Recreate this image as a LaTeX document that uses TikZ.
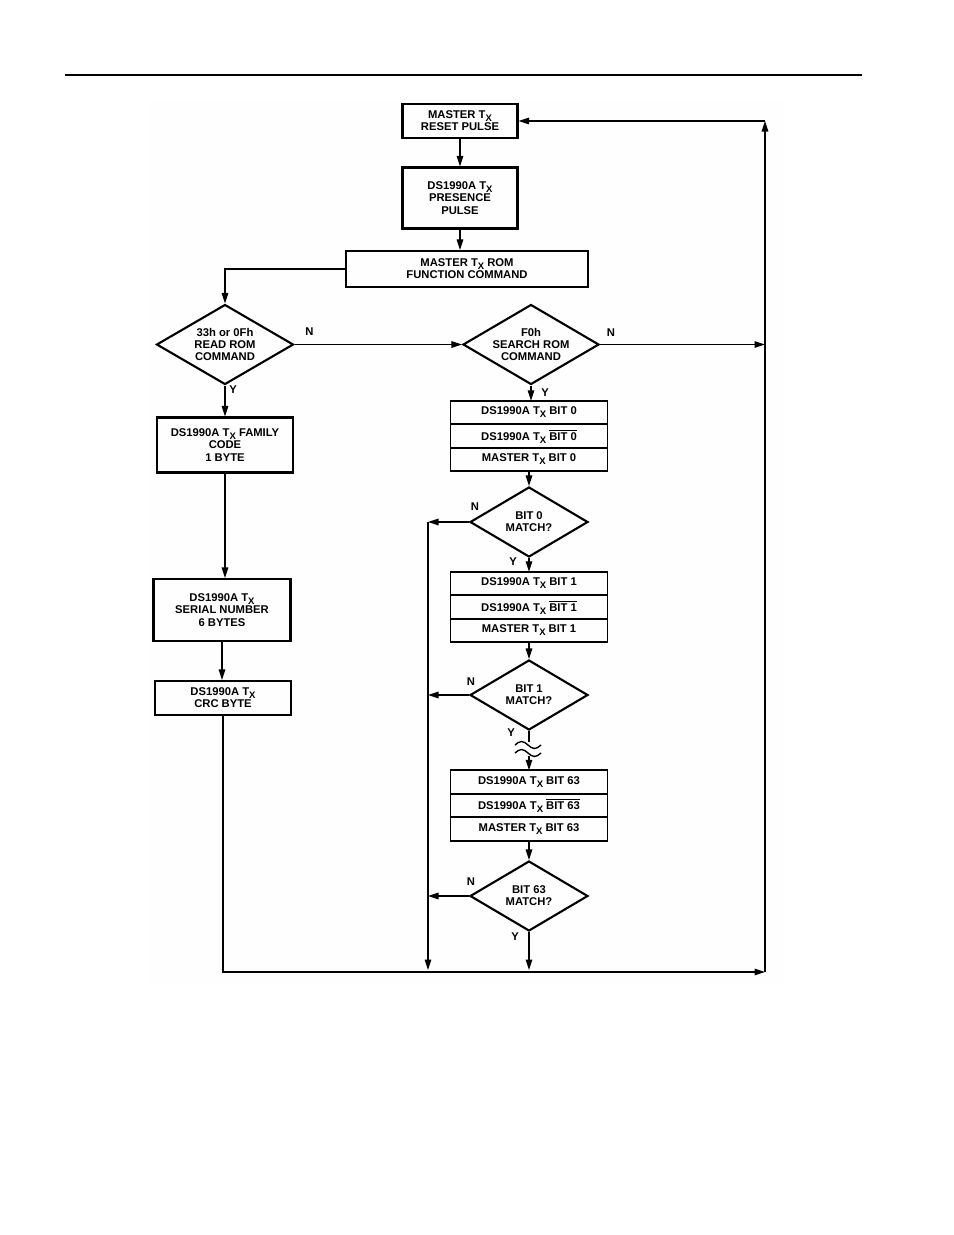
\documentclass[tikz,border=0pt]{standalone}
\usepackage{fontspec}
\setmainfont{Liberation Sans}
\usepackage{tikz}
\usetikzlibrary{positioning,arrows.meta,shapes.geometric,calc}
\newcommand{\flowfont}{\fontsize{6.4}{6.9}\selectfont\bfseries}
\newcommand{\Tx}{T\raisebox{-0.5ex}{\fontsize{5.4}{5.4}\selectfont X}}
\newcommand{\nbit}[1]{$\overline{\mbox{BIT #1}}$}
\tikzset{
  flowbox/.style={
    draw,
    line width=1.2pt,
    align=center,
    inner sep=1pt,
    font=\flowfont
  },
  bitrow/.style={
    draw,
    line width=1.1pt,
    minimum width=3.14cm,
    minimum height=0.47cm,
    inner sep=0pt,
    outer sep=0pt,
    font=\flowfont
  },
  decision/.style={
    diamond,
    draw,
    line width=1.2pt,
    inner sep=0pt,
    minimum width=2.36cm,
    minimum height=1.4cm
  },
  dtext/.style={align=center, inner sep=0pt, font=\flowfont},
  yn/.style={inner sep=0pt, font=\flowfont},
  wire/.style={line width=0.8pt},
  arrow/.style={
    wire,
    -{Triangle[length=2.1mm,width=1.3mm]}
  }
}

\begin{document}
\begin{tikzpicture}[x=0.02cm, y=-0.02cm]
  \useasboundingbox (0,0) rectangle (954,1235);
  \fill[black!0.3] (147,102) rectangle (785,985);
  \draw[line width=1.1pt] (65,75) -- (862,75);

  % reset and ROM command
  \node[flowbox, minimum width=2.3cm, minimum height=0.68cm] (reset) at (460,121) {MASTER \Tx\\RESET PULSE};
  \node[flowbox, minimum width=2.3cm, minimum height=1.22cm] (pres) at (460,198) {DS1990A \Tx\\PRESENCE\\PULSE};
  \node[flowbox, minimum width=4.84cm, minimum height=0.72cm] (rom) at (467,269) {MASTER \Tx{} ROM\\FUNCTION COMMAND};

  % read ROM branch
  \node[decision, minimum width=2.74cm, minimum height=1.6cm] (d1) at (225,344.5) {};
  \node[dtext] (d1t) at (d1) {33h or 0Fh\\READ ROM\\COMMAND};
  \node[flowbox, minimum width=2.72cm, minimum height=1.1cm] (fam) at (225,445) {DS1990A \Tx{} FAMILY\\CODE\\1 BYTE};
  \node[flowbox, minimum width=2.74cm, minimum height=1.24cm] (ser) at (222,610) {DS1990A \Tx\\SERIAL NUMBER\\6 BYTES};
  \node[flowbox, minimum width=2.72cm, minimum height=0.68cm] (crc) at (223,698) {DS1990A \Tx\\CRC BYTE};

  % search ROM branch
  \node[decision, minimum width=2.72cm, minimum height=1.6cm] (d2) at (531,344.5) {};
  \node[dtext] (d2t) at (d2) {F0h\\SEARCH ROM\\COMMAND};

  \node[bitrow] (b0a) at (529,412.5) {DS1990A \Tx{} BIT 0};
  \node[bitrow, below=0pt of b0a] (b0b) {DS1990A \Tx{} \nbit{0}};
  \node[bitrow, below=0pt of b0b] (b0c) {MASTER \Tx{} BIT 0};
  \node[decision] (m0) at (529,522) {};
  \node[dtext] (m0t) at (m0) {BIT 0\\MATCH?};

  \node[bitrow] (b1a) at (529,583.5) {DS1990A \Tx{} BIT 1};
  \node[bitrow, below=0pt of b1a] (b1b) {DS1990A \Tx{} \nbit{1}};
  \node[bitrow, below=0pt of b1b] (b1c) {MASTER \Tx{} BIT 1};
  \node[decision] (m1) at (529,695) {};
  \node[dtext] (m1t) at (m1) {BIT 1\\MATCH?};

  \node[bitrow] (b63a) at (529,782) {DS1990A \Tx{} BIT 63};
  \node[bitrow, below=0pt of b63a] (b63b) {DS1990A \Tx{} \nbit{63}};
  \node[bitrow, below=0pt of b63b] (b63c) {MASTER \Tx{} BIT 63};
  \node[decision] (m63) at (529,896) {};
  \node[dtext] (m63t) at (m63) {BIT 63\\MATCH?};

  % return paths
  \coordinate (tr) at (765,121);
  \coordinate (br) at (765,972);
  \coordinate (lb) at (428,970);
  \coordinate (sq1) at (529,742);
  \coordinate (sq2) at (529,756);

  \draw[arrow] (reset) -- (pres);
  \draw[arrow] (pres.south) -- (pres.south |- rom.north);
  \draw[arrow] (rom.west) -| (d1.north);
  \draw[arrow] (d1.south) -- (fam.north);
  \draw[arrow] (fam.south) -- (fam.south |- ser.north);
  \draw[arrow] (ser.south) -- (ser.south |- crc.north);
  \draw[arrow] (crc.south) |- (br);
  \draw[arrow] (br) -- (tr);
  \draw[arrow] (tr) -- (reset.east);
  \draw[arrow] (d1.east) -- (d2.west);
  \draw[arrow] (d2.east) -- (d2.east -| tr);
  \draw[arrow] (d2.south) -- (d2.south |- b0a.north);
  \draw[arrow] (b0c.south) -- (m0.north);
  \draw[arrow] (m0.south) -- (b1a.north);
  \draw[arrow] (b1c.south) -- (m1.north);
  \draw[wire] (m1.south) -- (sq1);
  \draw[wire] (515,745) sin (521.5,741.5) cos (528,745) sin (534.5,748.5) cos (541,745);
  \draw[wire] (515,753) sin (521.5,749.5) cos (528,753) sin (534.5,756.5) cos (541,753);
  \draw[arrow] (sq2) -- (b63a.north);
  \draw[arrow] (b63c.south) -- (m63.north);
  \draw[arrow] (m63.south) -- (m63.south |- lb);
  \draw[arrow] (m0.west) -- (m0.west -| lb);
  \draw[arrow] (m1.west) -- (m1.west -| lb);
  \draw[arrow] (m63.west) -- (m63.west -| lb);
  \draw[arrow] (m0.west -| lb) -- (lb);

  % Y / N marks
  \node[yn] (n1) at ($(d1.east)+(15,-13)$) {N};
  \node[yn] (y1) at ($(d1.south)+(8,4)$) {Y};
  \node[yn] (n2) at ($(d2.east)+(11,-12)$) {N};
  \node[yn] (y2) at ($(d2.south)+(14,7)$) {Y};
  \node[yn] (n3) at ($(m0.west)+(6,-15)$) {N};
  \node[yn] (y3) at ($(m0.south)+(-16,4)$) {Y};
  \node[yn] (n4) at ($(m1.west)+(2,-13)$) {N};
  \node[yn] (y4) at ($(m1.south)+(-18,2)$) {Y};
  \node[yn] (n5) at ($(m63.west)+(2,-14)$) {N};
  \node[yn] (y5) at ($(m63.south)+(-14,5)$) {Y};
\end{tikzpicture}
\end{document}
